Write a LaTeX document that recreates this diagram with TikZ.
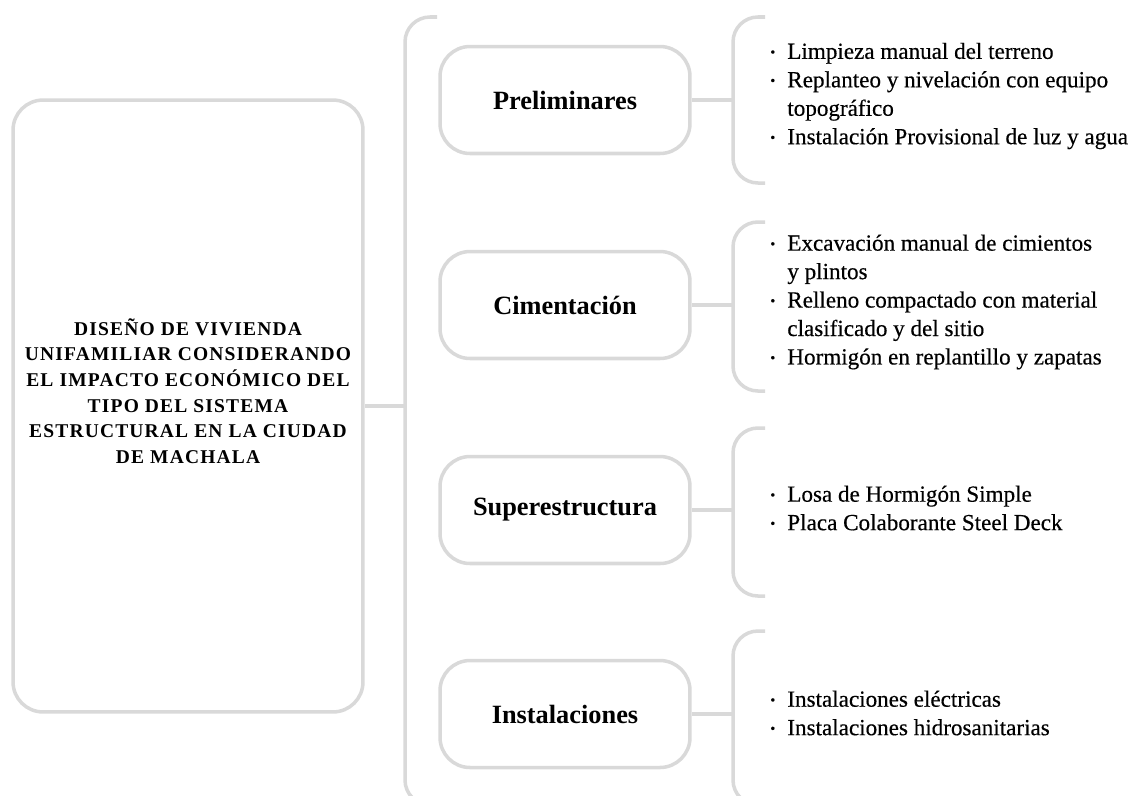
\documentclass[tikz,border=0pt]{standalone}
\usepackage{fontspec}
\setmainfont{Liberation Serif}
\usetikzlibrary{positioning}

\definecolor{gris}{RGB}{217,217,217}
\newcommand{\punto}{\makebox[0.34cm][l]{\raisebox{0.2ex}{\fontsize{8}{8}\selectfont\textbullet}}}
\newcommand{\sangria}{\hspace*{0.34cm}}

\begin{document}
\begin{tikzpicture}[
    x=0.02cm, y=-0.02cm,
    linea/.style={draw=gris, line width=2pt},
    llave/.style={draw=gris, line width=2pt, rounded corners=0.5cm},
    tema/.style={draw=gris, line width=2pt, rounded corners=0.6cm, minimum width=7cm, minimum height=12.24cm},
    etapa/.style={draw=gris, line width=2pt, rounded corners=0.6cm, minimum width=5cm, minimum height=2.14cm, font=\fontsize{15}{18}\selectfont\bfseries},
    titulo/.style={align=center, inner sep=0pt, font=\fontsize{11.1}{14.6}\selectfont\bfseries\addfontfeature{LetterSpace=6}},
    lista/.style={anchor=west, align=left, inner sep=0pt, font=\fontsize{13.15}{16.2}\selectfont\addfontfeature{FakeBold=0.4}}
]
\useasboundingbox (0,0) rectangle (1131,795);
\clip (0,0) rectangle (1131,795);

% tema central
\node[tema] (tema) at (188,406) {};
\node[titulo] (tit) at (188,391) {DISEÑO DE VIVIENDA\\UNIFAMILIAR CONSIDERANDO\\EL IMPACTO ECONÓMICO DEL\\TIPO DEL SISTEMA\\ESTRUCTURAL EN LA CIUDAD\\DE MACHALA};

% llave principal
\coordinate (b0) at (405,406);
\draw[llave] (437,17) -- (405,17) -- (405,805) -- (437,805);
\draw[linea] (tema.east) -- (b0);

% etapas
\node[etapa] (pre) at (565,100) {Preliminares};
\node[etapa] (cim) at (565,305) {Cimentación};
\node[etapa] (sup) at (565,510) {Superestructura};
\node[etapa] (ins) at (565,714) {Instalaciones};

% llaves de cada etapa
\foreach \n/\a/\b in {pre/17/183, cim/222/391, sup/428/596, ins/631/805}{
    \draw[llave] (765,\a) -- (733,\a) -- (733,\b) -- (765,\b);
    \coordinate (b-\n) at (733,0);
    \draw[linea] (\n.east) -- (\n.east -| b-\n);
}

% actividades
\node[lista] (l-pre) at (770,96) {\punto Limpieza manual del terreno\\
    \punto Replanteo y nivelación con equipo\\
    \sangria topográfico\\
    \punto Instalación Provisional de luz y agua};
\node[lista] (l-cim) at (770,302) {\punto Excavación manual de cimientos\\
    \sangria y plintos\\
    \punto Relleno compactado con material\\
    \sangria clasificado y del sitio\\
    \punto Hormigón en replantillo y zapatas};
\node[lista] (l-sup) at (770,508) {\punto Losa de Hormigón Simple\\
    \punto Placa Colaborante Steel Deck};
\node[lista] (l-ins) at (770,713) {\punto Instalaciones eléctricas\\
    \punto Instalaciones hidrosanitarias};
\end{tikzpicture}
\end{document}
